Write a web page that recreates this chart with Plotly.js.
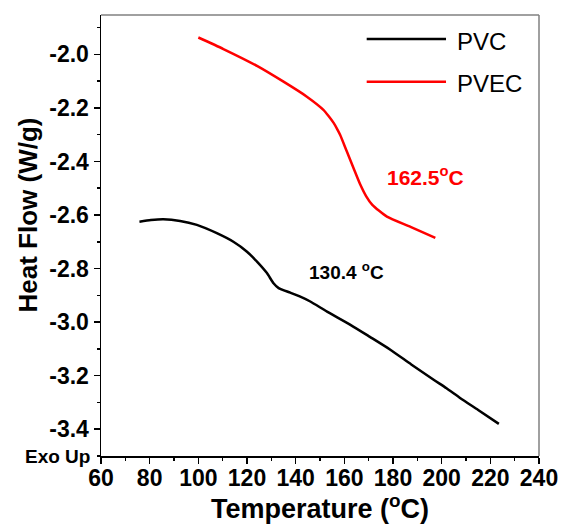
<!DOCTYPE html>
<html>
<head>
<meta charset="utf-8">
<script src="https://cdn.plot.ly/plotly-3.0.1.min.js"></script>
<style>html,body{margin:0;padding:0;background:#fff;}#chart{width:564px;height:524px;}</style>
</head>
<body>
<div id="chart"></div>
<script>
// Series names
const seriesNames = ["PVC", "PVEC"];
// PVC curve (Temperature °C, Heat Flow W/g)
const pvcTemp = [75.8, 80.5, 85.6, 92.5, 99.4, 107.6, 114.4, 120.0, 124.1, 128.2, 130.9, 133.0, 137.8, 141.9, 146.0, 152.9, 162.5, 170.5, 178.9, 187.5, 196.7, 202.0, 207.7, 215.0, 223.5];
const pvcHF   = [-2.625, -2.619, -2.616, -2.622, -2.637, -2.668, -2.700, -2.737, -2.774, -2.817, -2.855, -2.873, -2.890, -2.905, -2.923, -2.961, -3.010, -3.055, -3.103, -3.158, -3.215, -3.247, -3.284, -3.328, -3.380];
// PVEC curve
const pvecTemp = [100.0, 110.3, 124.1, 135.0, 144.6, 151.5, 153.6, 155.6, 157.0, 158.3, 161.0, 163.8, 166.5, 169.0, 171.5, 177.5, 187.2, 197.4];
const pvecHF   = [-1.937, -1.980, -2.043, -2.102, -2.158, -2.208, -2.231, -2.256, -2.278, -2.301, -2.362, -2.425, -2.485, -2.530, -2.562, -2.606, -2.644, -2.685];
// Annotation labels
const pvcLabel = "130.4 <sup>o</sup>C";
const pvcLabelPos = [161, -2.808];
const pvecLabel = "162.5<sup>o</sup>C";
const pvecLabelPos = [193.5, -2.455];
// Axis ticks
const xTicks = [60, 80, 100, 120, 140, 160, 180, 200, 220, 240];
const yTicks = [-3.4, -3.2, -3.0, -2.8, -2.6, -2.4, -2.2, -2.0];
const yTickText = ["-3.4", "-3.2", "-3.0", "-2.8", "-2.6", "-2.4", "-2.2", "-2.0"];
const xTitle = "Temperature (<sup>o</sup>C)";
const yTitle = "Heat Flow (W/g)";

const FONT = "Liberation Sans, Arial, sans-serif";
const colors = ["#000000", "#ff0000"];

const traces = [
  {x: pvcTemp, y: pvcHF, mode: "lines", name: seriesNames[0], line: {color: colors[0], width: 2.5, shape: "spline", smoothing: 0.6}, showlegend: false},
  {x: pvecTemp, y: pvecHF, mode: "lines", name: seriesNames[1], line: {color: colors[1], width: 2.5, shape: "spline", smoothing: 0.6}, showlegend: false}
];

const legendRows = [0.9456, 0.8488];
const shapes = [
  {type: "line", xref: "paper", yref: "paper", x0: 0, x1: 1, y0: 1, y1: 1, line: {color: "#808080", width: 1.5}},
  {type: "line", xref: "paper", yref: "paper", x0: 1, x1: 1, y0: 0, y1: 1, line: {color: "#808080", width: 1.5}}
];
const annotations = [
  {x: pvcLabelPos[0], y: pvcLabelPos[1], xref: "x", yref: "y", text: pvcLabel, showarrow: false, font: {family: FONT, size: 19, color: "#000", weight: "bold"}},
  {x: pvecLabelPos[0], y: pvecLabelPos[1], xref: "x", yref: "y", text: pvecLabel, showarrow: false, font: {family: FONT, size: 21, color: "#ff0000", weight: "bold"}},
  {x: -0.02, y: 0, xref: "paper", yref: "paper", xanchor: "right", yanchor: "middle", text: "Exo Up", showarrow: false, font: {family: FONT, size: 19, color: "#000", weight: "bold"}},
  {x: -0.1678, y: 0.5465, xref: "paper", yref: "paper", xanchor: "center", yanchor: "middle", textangle: -90, text: yTitle, showarrow: false, font: {family: FONT, size: 26, color: "#000", weight: "bold"}}
];
seriesNames.forEach((n, i) => {
  shapes.push({type: "line", xref: "paper", yref: "paper", x0: 0.6066, x1: 0.7877, y0: legendRows[i], y1: legendRows[i], line: {color: colors[i], width: 2.5}});
  annotations.push({x: 0.808, y: legendRows[i] - 0.005, xref: "paper", yref: "paper", xanchor: "left", yanchor: "middle", text: n, showarrow: false, font: {family: FONT, size: 24, color: "#000"}});
});

const layout = {
  width: 564, height: 524,
  margin: {l: 101, r: 25, t: 15, b: 68, pad: 0},
  paper_bgcolor: "#fff", plot_bgcolor: "#fff",
  showlegend: false,
  font: {family: FONT, color: "#000"},
  xaxis: {
    range: [60, 240], tickvals: xTicks, ticktext: xTicks.map(String),
    ticks: "outside", ticklen: 6, tickwidth: 1.5, tickcolor: "#000",
    minor: {dtick: 10, tick0: 60, ticks: "outside", ticklen: 3, tickwidth: 1.5, tickcolor: "#000", showgrid: false},
    showline: true, linecolor: "#000", linewidth: 1.5, showgrid: false, zeroline: false,
    ticklabelstandoff: -5,
    tickfont: {family: FONT, size: 23, color: "#000", weight: "bold"},
    title: {text: xTitle, font: {family: FONT, size: 27, color: "#000", weight: "bold"}, standoff: 5}
  },
  yaxis: {
    range: [-3.5, -1.853], tickvals: yTicks, ticktext: yTickText,
    ticks: "outside", ticklen: 6, tickwidth: 1.5, tickcolor: "#000",
    minor: {dtick: 0.1, tick0: -2.0, ticks: "outside", ticklen: 3, tickwidth: 1.5, tickcolor: "#000", showgrid: false},
    showline: true, linecolor: "#000", linewidth: 1.5, showgrid: false, zeroline: false,
    tickfont: {family: FONT, size: 23, color: "#000", weight: "bold"}
  },
  shapes: shapes,
  annotations: annotations
};

Plotly.newPlot("chart", traces, layout, {displayModeBar: false, staticPlot: true});
</script>
</body>
</html>
